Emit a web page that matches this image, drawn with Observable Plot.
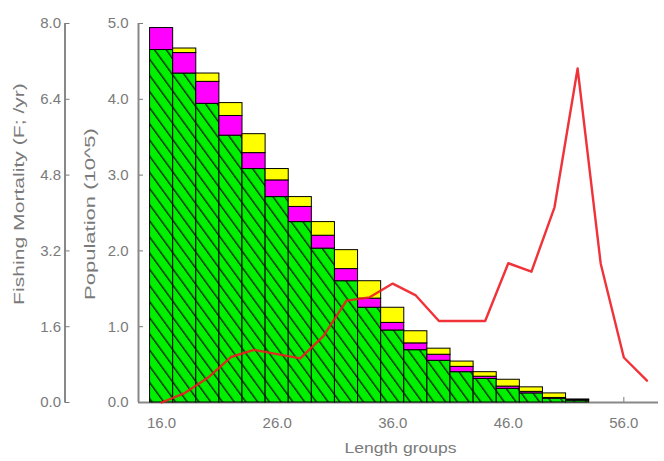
<!DOCTYPE html>
<html>
<head>
<meta charset="utf-8">
<script src="https://cdn.jsdelivr.net/npm/d3@7"></script>
<script src="https://cdn.jsdelivr.net/npm/@observablehq/plot@0.6"></script>
<style>
  body { margin: 0; background: #fff; }
  svg { display: block; }
</style>
</head>
<body>
<div id="chart"></div>
<script>
// Length groups (bar centres) and stacked population components (10^5)
const lengthGroups = [16, 18, 20, 22, 24, 26, 28, 30, 32, 34, 36, 38, 40, 42, 44, 46, 48, 50, 52];
const basePop   = [4.65, 4.34, 3.94, 3.52, 3.08, 2.71, 2.38, 2.03, 1.60, 1.25, 0.95, 0.69, 0.55, 0.40, 0.31, 0.18, 0.12, 0.05, 0.025];
const middlePop = [0.29, 0.27, 0.29, 0.26, 0.21, 0.22, 0.20, 0.17, 0.16, 0.12, 0.10, 0.09, 0.08, 0.07, 0.03, 0.03, 0.02, 0.01, 0.005];
const topPop    = [0.00, 0.06, 0.11, 0.17, 0.25, 0.15, 0.13, 0.18, 0.25, 0.23, 0.20, 0.16, 0.08, 0.07, 0.06, 0.09, 0.06, 0.06, 0.01];

// Fishing mortality by length (F; /yr)
const fLengths = [16, 18, 20, 22, 24, 26, 28, 30, 32, 34, 36, 38, 40, 42, 44, 46, 48, 50, 52, 54, 56, 58];
const fishingMortality = [0.0, 0.2, 0.52, 0.96, 1.11, 1.02, 0.93, 1.4, 2.15, 2.22, 2.51, 2.26, 1.72, 1.72, 1.72, 2.94, 2.76, 4.12, 7.05, 2.93, 0.95, 0.46];

// Axis ticks and extents
const xDomain = [14, 59];
const xTicks = [16, 26, 36, 46, 56];
const popTicks = [0, 1, 2, 3, 4, 5];
const fTicks = [0, 1.6, 3.2, 4.8, 6.4, 8.0];
const popMax = 5;
const fMax = 8;

const seriesNames = ["base", "middle", "top"];
const seriesFills = ["url(#hatch)", "#ff00ff", "#ffff00"];

const rows = lengthGroups.flatMap((len, i) => [
  {len, series: "base", value: basePop[i]},
  {len, series: "middle", value: middlePop[i]},
  {len, series: "top", value: topPop[i]}
]);
const fRows = fLengths.map((len, i) => ({len, f: fishingMortality[i]}));
// F shares the population y scale: 8.0 on the F axis lines up with 5.0
const toPop = f => f * popMax / fMax;

const axisColor = "#7a7a7a";
const fAxisShift = -73.5;

const plot = Plot.plot({
  width: 664,
  height: 461,
  marginLeft: 138,
  marginRight: 6,
  marginTop: 23,
  marginBottom: 59,
  style: {fontFamily: "'Liberation Sans', Arial, sans-serif", fontSize: "15px", background: "#fff", color: axisColor},
  x: {domain: xDomain},
  y: {domain: [0, popMax]},
  color: {domain: seriesNames, range: seriesFills},
  marks: [
    Plot.axisX(xTicks, {tickSize: -5, tickPadding: 20, tickFormat: d => d.toFixed(1), label: null}),
    Plot.axisY(popTicks, {tickSize: -5, tickPadding: 15, tickFormat: d => d.toFixed(1), label: null}),
    Plot.axisY(fTicks.map(toPop), {tickSize: -5, tickPadding: 9, dx: fAxisShift,
      tickFormat: d => (d * fMax / popMax).toFixed(1), label: null}),
    Plot.ruleX([xDomain[0]], {stroke: "#888", strokeWidth: 2}),
    Plot.ruleX([xDomain[0]], {stroke: "#888", strokeWidth: 2, dx: fAxisShift}),
    Plot.ruleY([0], {stroke: "#888", strokeWidth: 2}),
    Plot.rectY(rows, {x1: d => d.len - 1, x2: d => d.len + 1, y: "value", fill: "series", stroke: "#000", strokeWidth: 1}),
    Plot.line(fRows, {x: "len", y: d => toPop(d.f), stroke: "#ee1c24", strokeWidth: 2.4, strokeOpacity: 0.9}),
    Plot.text(["Population (10^5)"], {text: d => d, frameAnchor: "left", textAnchor: "middle", lineAnchor: "middle",
      dx: -48, dy: 1, rotate: -90, fill: axisColor, fontSize: 15}),
    Plot.text(["Fishing Mortality (F; /yr)"], {text: d => d, frameAnchor: "left", textAnchor: "middle", lineAnchor: "middle",
      dx: -119, dy: -19, rotate: -90, fill: axisColor, fontSize: 15}),
    Plot.text(["Length groups"], {text: d => d, frameAnchor: "bottom", textAnchor: "middle", lineAnchor: "middle",
      dx: 2, dy: 46, fill: axisColor, fontSize: 15})
  ]
});

// Diagonal hatch used for the base component
const svg = d3.select(plot);
const defs = svg.insert("defs", ":first-child");
const pat = defs.append("pattern")
  .attr("id", "hatch")
  .attr("patternUnits", "userSpaceOnUse")
  .attr("width", 9.5)
  .attr("height", 9.5)
  .attr("patternTransform", "rotate(-36)");
pat.append("rect").attr("width", 9.5).attr("height", 9.5).attr("fill", "#00f000");
pat.append("line").attr("x1", 0.7).attr("y1", -1).attr("x2", 0.7).attr("y2", 10.5)
  .attr("stroke", "#0a1a0a").attr("stroke-width", 1.3);

document.getElementById("chart").append(plot);

// Stretch the axis titles along their reading direction to the drawn lengths
const titleLengths = {"Population (10^5)": 172, "Fishing Mortality (F; /yr)": 222, "Length groups": 112};
svg.selectAll("text").each(function() {
  const target = titleLengths[this.textContent];
  if (target) {
    const k = target / this.getComputedTextLength();
    const tr = this.getAttribute("transform") || "";
    this.setAttribute("transform", `${tr} scale(${k},1)`);
  }
});
</script>
</body>
</html>
